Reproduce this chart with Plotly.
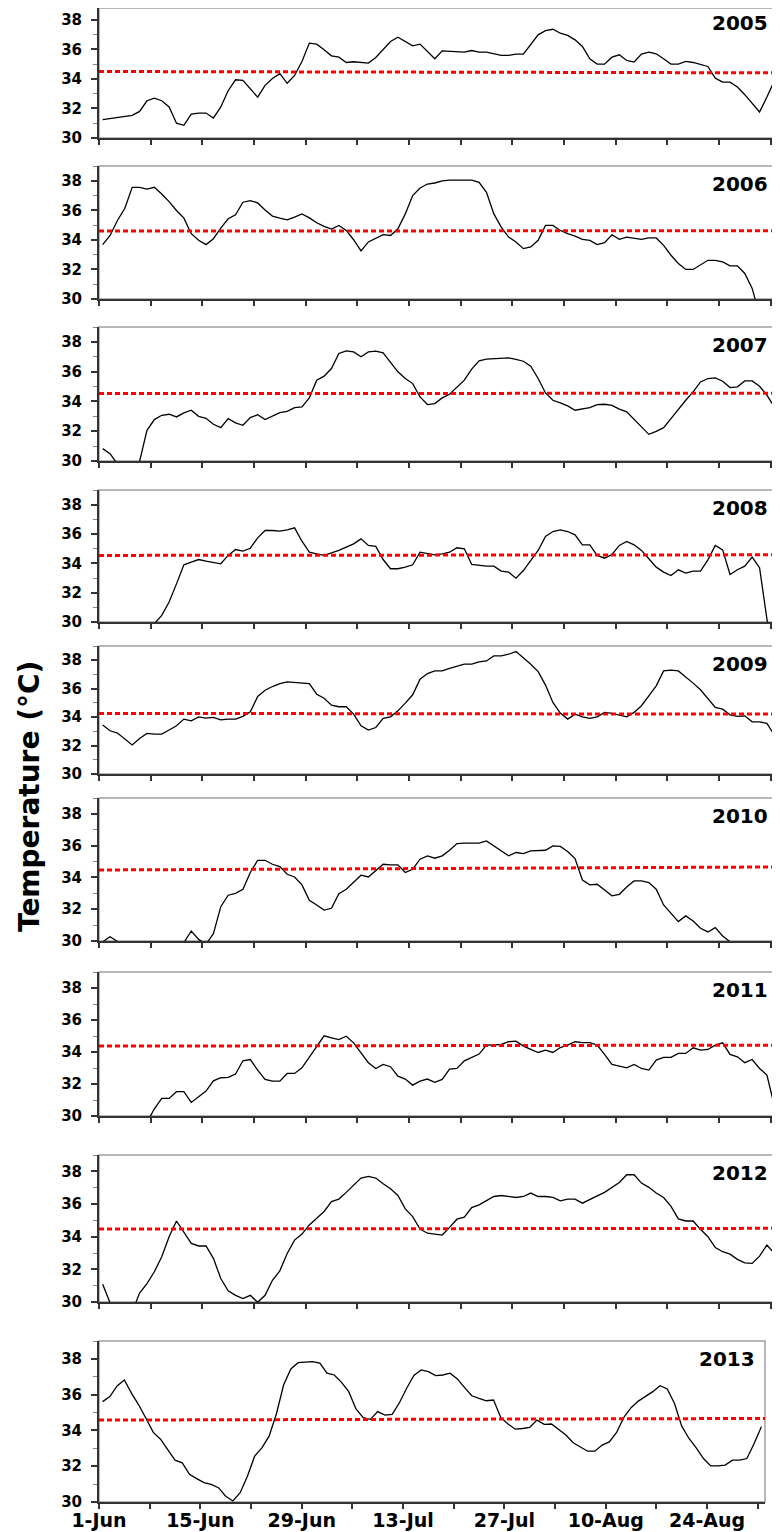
import plotly.graph_objects as go

# ---------------- data ----------------
years = ["2005", "2006", "2007", "2008", "2009", "2010", "2011", "2012", "2013"]
day_index = list(range(92))  # 1-Jun ... 31-Aug
tick_labels = ["1-Jun", "15-Jun", "29-Jun", "13-Jul", "27-Jul", "10-Aug", "24-Aug"]

t2005 = [31.24, 31.30, 31.36, 31.42, 31.53, 31.80, 32.52, 32.70, 32.52, 32.10,
         31.00, 30.86, 31.62, 31.69, 31.69, 31.35, 32.10, 33.20, 33.94, 33.90,
         33.30, 32.77, 33.56, 34.03, 34.35, 33.70, 34.23, 35.18, 36.42, 36.35,
         35.97, 35.56, 35.47, 35.11, 35.16, 35.10, 35.07, 35.45, 36.01, 36.53,
         36.82, 36.53, 36.24, 36.35, 35.86, 35.36, 35.90, 35.86, 35.84, 35.81,
         35.92, 35.81, 35.81, 35.70, 35.59, 35.59, 35.68, 35.68, 36.31, 36.98,
         37.27, 37.36, 37.09, 36.94, 36.64, 36.19, 35.36, 35.00, 35.00, 35.47,
         35.63, 35.25, 35.14, 35.68, 35.81, 35.70, 35.36, 35.00, 35.00, 35.18,
         35.11, 34.95, 34.84, 34.05, 33.78, 33.78, 33.45, 32.93, 32.36, 31.76,
         32.77, 33.87]

t2006 = [33.68, 34.30, 35.31, 36.14, 37.56, 37.56, 37.44, 37.56, 37.11, 36.59,
         35.99, 35.47, 34.42, 33.97, 33.68, 34.08, 34.80, 35.43, 35.70, 36.55,
         36.66, 36.50, 36.03, 35.61, 35.47, 35.36, 35.54, 35.76, 35.49, 35.16,
         34.91, 34.73, 34.98, 34.64, 34.01, 33.25, 33.86, 34.08, 34.35, 34.30,
         34.75, 35.76, 37.00, 37.51, 37.78, 37.85, 38.00, 38.05, 38.05, 38.05,
         38.05, 37.89, 37.22, 35.76, 34.87, 34.19, 33.86, 33.41, 33.52, 33.97,
         34.98, 34.98, 34.64, 34.42, 34.26, 34.04, 33.97, 33.68, 33.81, 34.35,
         34.04, 34.19, 34.13, 34.04, 34.13, 34.13, 33.63, 32.96, 32.40, 32.00,
         32.00, 32.33, 32.62, 32.62, 32.51, 32.24, 32.24, 31.73, 30.72, 28.90,
         28.00, 27.50]

t2007 = [30.83, 30.49, 29.79, 29.50, 29.60, 29.98, 32.06, 32.78, 33.07, 33.14,
         32.96, 33.23, 33.41, 33.00, 32.87, 32.47, 32.24, 32.85, 32.56, 32.40,
         32.91, 33.11, 32.78, 33.02, 33.25, 33.34, 33.59, 33.63, 34.24, 35.43,
         35.70, 36.21, 37.22, 37.40, 37.33, 37.00, 37.33, 37.38, 37.26, 36.62,
         35.99, 35.54, 35.20, 34.30, 33.79, 33.86, 34.24, 34.48, 34.93, 35.43,
         36.17, 36.73, 36.84, 36.88, 36.93, 36.93, 36.82, 36.70, 36.37, 35.54,
         34.57, 34.08, 33.90, 33.70, 33.41, 33.52, 33.59, 33.79, 33.81, 33.74,
         33.48, 33.30, 32.78, 32.24, 31.79, 31.99, 32.24, 32.85, 33.48, 34.08,
         34.64, 35.31, 35.54, 35.58, 35.36, 34.93, 34.98, 35.38, 35.38, 35.02,
         34.42, 33.63]

t2008 = [28.50, 28.50, 28.50, 28.50, 28.50, 28.50, 28.80, 29.89, 30.45, 31.36,
         32.60, 33.90, 34.08, 34.26, 34.15, 34.04, 33.97, 34.54, 34.94, 34.83,
         35.03, 35.74, 36.24, 36.24, 36.19, 36.28, 36.42, 35.51, 34.76, 34.65,
         34.54, 34.72, 34.88, 35.10, 35.33, 35.67, 35.22, 35.15, 34.26, 33.63,
         33.63, 33.74, 33.90, 34.76, 34.65, 34.58, 34.65, 34.76, 35.06, 34.99,
         33.92, 33.85, 33.81, 33.81, 33.47, 33.40, 32.99, 33.51, 34.20, 34.88,
         35.83, 36.17, 36.28, 36.17, 35.94, 35.26, 35.26, 34.54, 34.35, 34.60,
         35.22, 35.49, 35.26, 34.88, 34.31, 33.74, 33.40, 33.17, 33.56, 33.33,
         33.47, 33.47, 34.24, 35.22, 34.92, 33.24, 33.56, 33.81, 34.42, 33.70,
         30.20, 27.00]

t2009 = [33.44, 33.04, 32.88, 32.46, 32.04, 32.50, 32.85, 32.81, 32.81, 33.09,
         33.39, 33.86, 33.74, 34.02, 33.93, 33.98, 33.81, 33.86, 33.86, 34.05,
         34.37, 35.45, 35.89, 36.15, 36.36, 36.48, 36.43, 36.43, 36.36, 35.61,
         35.33, 34.84, 34.73, 34.73, 34.21, 33.39, 33.09, 33.27, 33.91, 34.02,
         34.44, 34.98, 35.57, 36.67, 37.06, 37.25, 37.25, 37.42, 37.56, 37.72,
         37.72, 37.88, 37.95, 38.30, 38.30, 38.42, 38.61, 38.19, 37.72, 37.20,
         36.25, 35.03, 34.28, 33.86, 34.21, 34.02, 33.91, 34.02, 34.33, 34.26,
         34.14, 34.02, 34.33, 34.80, 35.50, 36.20, 37.25, 37.30, 37.25, 36.83,
         36.39, 35.92, 35.33, 34.68, 34.56, 34.16, 34.05, 34.09, 33.67, 33.67,
         33.56, 32.74]

t2010 = [29.95, 30.27, 29.97, 29.50, 29.40, 29.40, 29.40, 29.40, 29.40, 29.50,
         29.60, 29.90, 30.63, 30.10, 29.80, 30.46, 32.16, 32.88, 33.00, 33.26,
         34.31, 35.08, 35.08, 34.83, 34.68, 34.20, 34.03, 33.53, 32.56, 32.27,
         31.95, 32.06, 32.98, 33.26, 33.72, 34.14, 34.03, 34.45, 34.83, 34.79,
         34.79, 34.31, 34.52, 35.15, 35.36, 35.21, 35.36, 35.71, 36.13, 36.16,
         36.16, 36.16, 36.30, 35.99, 35.63, 35.36, 35.57, 35.50, 35.67, 35.67,
         35.71, 35.99, 35.95, 35.63, 35.19, 33.84, 33.53, 33.57, 33.19, 32.84,
         32.94, 33.40, 33.78, 33.78, 33.68, 33.26, 32.27, 31.72, 31.22, 31.58,
         31.26, 30.80, 30.57, 30.84, 30.32, 29.95, 29.60, 29.40, 29.30, 29.30,
         29.20, 29.20]

t2011 = [29.30, 29.30, 29.30, 29.30, 29.30, 29.40, 29.60, 30.45, 31.10, 31.10,
         31.52, 31.52, 30.85, 31.21, 31.56, 32.20, 32.39, 32.41, 32.62, 33.45,
         33.53, 32.87, 32.29, 32.18, 32.18, 32.66, 32.66, 33.01, 33.70, 34.37,
         35.01, 34.89, 34.78, 34.99, 34.57, 33.95, 33.33, 32.97, 33.22, 33.08,
         32.49, 32.31, 31.93, 32.18, 32.31, 32.10, 32.29, 32.93, 32.97, 33.45,
         33.64, 33.87, 34.43, 34.47, 34.47, 34.64, 34.68, 34.37, 34.16, 33.97,
         34.12, 33.97, 34.28, 34.43, 34.64, 34.59, 34.59, 34.43, 33.85, 33.22,
         33.12, 33.01, 33.22, 32.97, 32.87, 33.49, 33.66, 33.66, 33.91, 33.91,
         34.26, 34.12, 34.16, 34.43, 34.57, 33.85, 33.70, 33.33, 33.53, 32.97,
         32.56, 30.64]

t2012 = [31.09, 29.95, 29.20, 29.00, 29.40, 30.55, 31.13, 31.85, 32.77, 34.00,
         34.96, 34.31, 33.59, 33.43, 33.43, 32.67, 31.44, 30.68, 30.41, 30.21,
         30.41, 29.98, 30.41, 31.33, 31.91, 32.97, 33.79, 34.16, 34.72, 35.13,
         35.54, 36.15, 36.30, 36.71, 37.14, 37.59, 37.69, 37.59, 37.24, 36.93,
         36.52, 35.70, 35.23, 34.47, 34.21, 34.14, 34.10, 34.57, 35.07, 35.19,
         35.78, 35.95, 36.19, 36.46, 36.52, 36.46, 36.40, 36.46, 36.67, 36.46,
         36.46, 36.40, 36.19, 36.30, 36.30, 36.05, 36.30, 36.50, 36.71, 37.04,
         37.32, 37.79, 37.79, 37.28, 37.02, 36.67, 36.40, 35.85, 35.09, 34.96,
         34.96, 34.45, 34.00, 33.34, 33.08, 32.93, 32.61, 32.40, 32.36, 32.81,
         33.49, 32.97]

t2013 = [35.61, 35.89, 36.49, 36.82, 36.07, 35.42, 34.67, 33.89, 33.51, 32.95,
         32.34, 32.19, 31.55, 31.31, 31.08, 30.99, 30.80, 30.32, 30.06, 30.52,
         31.44, 32.56, 33.03, 33.68, 34.92, 36.54, 37.44, 37.79, 37.81, 37.85,
         37.76, 37.20, 37.10, 36.69, 36.17, 35.20, 34.71, 34.62, 35.05, 34.86,
         34.90, 35.55, 36.36, 37.07, 37.38, 37.29, 37.07, 37.10, 37.20, 36.88,
         36.39, 35.94, 35.79, 35.66, 35.70, 34.73, 34.36, 34.07, 34.11, 34.17,
         34.58, 34.34, 34.36, 34.06, 33.74, 33.31, 33.05, 32.84, 32.84, 33.18,
         33.36, 33.89, 34.73, 35.27, 35.64, 35.89, 36.17, 36.50, 36.32, 35.51,
         34.24, 33.55, 33.03, 32.43, 32.02, 32.02, 32.06, 32.34, 32.34, 32.43,
         33.27, 34.21]

# red dotted reference line (value at left edge, value at right edge)
thr_start = [34.50, 34.60, 34.53, 34.54, 34.26, 34.47, 34.37, 34.47, 34.58]
thr_end = [34.41, 34.62, 34.55, 34.58, 34.21, 34.66, 34.43, 34.51, 34.67]

temps = [t2005, t2006, t2007, t2008, t2009, t2010, t2011, t2012, t2013]

# ---------------- layout geometry ----------------
# The page shows the figure 8 px in from the window's top-left corner, so
# window pixel positions are converted to figure pixels by subtracting OFF.
OFF = 8
W, H = 780 - OFF, 1532 - OFF
LEFT = 99 - OFF
win_tops = (5, 166, 327, 490, 646, 798, 972, 1155, 1341)
win_bottoms = (138, 299, 461, 622, 774, 941, 1116, 1302, 1502)
win_rights = (778, 778, 778, 778, 778, 778, 778, 778, 765)
Y_LO, Y_HI = 30, 39

FONT = "DejaVu Sans"
AX = "#333333"

tickvals_x = [d - 0.5 for d in day_index if d % 7 == 0]
label_days = [d for d in day_index if d % 14 == 0 and d <= 84]
ticktext_x = []
for d in day_index:
    if d % 7 == 0:
        if d in label_days:
            ticktext_x.append(tick_labels[label_days.index(d)])
        else:
            ticktext_x.append("")

fig = go.Figure()
layout = dict(
    width=W, height=H,
    margin=dict(l=0, r=0, t=0, b=0, autoexpand=False),
    paper_bgcolor="white", plot_bgcolor="white",
    font=dict(family=FONT, color="black"),
    showlegend=False,
)
shapes = []
annotations = []

for k in range(9):
    n = k + 1
    sx = "" if n == 1 else str(n)
    xa, ya = "x" + sx, "y" + sx
    top = win_tops[k] - OFF
    bot = win_bottoms[k] - OFF
    px_per_unit = (bot - top) / (Y_HI - Y_LO)
    y_hi = Y_HI
    if top < 0:  # the top panel starts above the drawable area: trim its range
        y_hi = Y_HI + top / px_per_unit
        top = 0
    right = win_rights[k] - OFF

    fig.add_trace(go.Scatter(
        x=day_index, y=temps[k], mode="lines",
        line=dict(color="black", width=1.3),
        xaxis=xa, yaxis=ya, hoverinfo="skip", showlegend=False,
    ))
    layout["xaxis" + sx] = dict(
        domain=[LEFT / W, right / W],
        range=[-0.5, 91.5], anchor=ya, automargin=False,
        tickmode="array", tickvals=tickvals_x, ticktext=ticktext_x,
        ticks="outside", ticklen=5, tickwidth=1.5, tickcolor=AX,
        showline=True, linecolor=AX, linewidth=2,
        showgrid=False, zeroline=False,
        showticklabels=(n == 9),
        tickfont=dict(family=FONT, size=19, color="black", weight="bold"),
        ticklabelstandoff=-5,
        fixedrange=True,
    )
    layout["yaxis" + sx] = dict(
        domain=[1 - bot / H, 1 - top / H],
        range=[Y_LO, y_hi], anchor=xa, automargin=False,
        tickmode="array", tickvals=[30, 32, 34, 36, 38],
        ticks="outside", ticklen=6, tickwidth=1.5, tickcolor=AX,
        minor=dict(tickmode="array", tickvals=[31, 33, 35, 37, 39],
                   ticks="outside", ticklen=4, tickwidth=1, tickcolor="#888888"),
        showline=True, linecolor=AX, linewidth=2,
        showgrid=False, zeroline=False,
        tickfont=dict(family=FONT, size=15, color="black", weight="bold"),
        ticklabelstandoff=6,
        fixedrange=True,
    )
    # gray frame (top / right)
    shapes.append(dict(type="rect", xref=xa + " domain", yref=ya + " domain",
                       x0=0, x1=1, y0=0, y1=1, layer="below",
                       line=dict(color="#a0a0a0", width=1.5)))
    # red dotted reference line
    shapes.append(dict(type="line", xref=xa + " domain", yref=ya,
                       x0=0, x1=1, y0=thr_start[k], y1=thr_end[k],
                       line=dict(color="#ff0000", width=3, dash="5px,3px")))
    # year label
    annotations.append(dict(
        text=years[k], xref="paper", yref="paper",
        x=(right - 8) / W, y=1 - (win_tops[k] - OFF + 18) / H,
        xanchor="right", yanchor="middle", showarrow=False,
        font=dict(family=FONT, size=20, color="black", weight="bold"),
    ))

annotations.append(dict(
    text="Temperature (\u00b0C)", xref="paper", yref="paper",
    x=(29 - OFF) / W, y=1 - (797 - OFF) / H, xanchor="center", yanchor="middle",
    textangle=-90, showarrow=False,
    font=dict(family=FONT, size=28, color="black", weight="bold"),
))

layout["shapes"] = shapes
layout["annotations"] = annotations
fig.update_layout(**layout)
fig.write_html("out.html")
